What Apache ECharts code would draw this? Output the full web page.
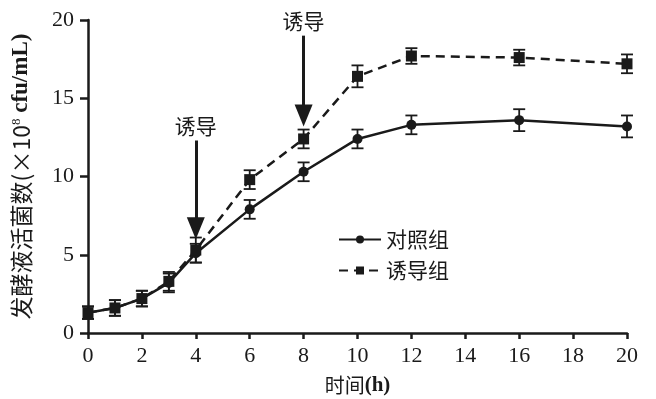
<!DOCTYPE html>
<html>
<head>
<meta charset="utf-8">
<script src="https://cdn.jsdelivr.net/npm/echarts@6/dist/echarts.min.js"></script>
<style>
  html, body { margin: 0; padding: 0; background: #fff; }
  #chart { width: 656px; height: 399px; }
</style>
</head>
<body>
<div id="chart"></div>
<script>
// sampling times (h)
var hours = [0, 1, 2, 3, 4, 6, 8, 10, 12, 16, 20];
var controlVals = [1.3, 1.6, 2.2, 3.2, 5.1, 7.9, 10.3, 12.4, 13.3, 13.6, 13.2];
var controlErr = [0.4, 0.5, 0.5, 0.6, 0.6, 0.6, 0.6, 0.6, 0.6, 0.7, 0.7];
var inducedVals = [1.3, 1.6, 2.2, 3.3, 5.3, 9.8, 12.4, 16.4, 17.7, 17.6, 17.2];
var inducedErr = [0.4, 0.5, 0.5, 0.6, 0.8, 0.6, 0.6, 0.7, 0.5, 0.5, 0.6];
// induction arrows: [time, top, tip]
var arrows = [[4, 12.3, 6.7], [8, 19.0, 13.9]];

var ink = "#1a1a1a";
var serif = "'Liberation Serif', 'Noto Sans CJK SC', serif";
var cjk = "'Noto Sans CJK SC', sans-serif";

function pairs(vals) {
  return hours.map(function (h, i) { return [h, vals[i]]; });
}
function bars(vals, errs) {
  return hours.map(function (h, i) { return [h, vals[i] - errs[i], vals[i] + errs[i]]; });
}

function renderErr(params, api) {
  var lo = api.coord([api.value(0), api.value(1)]);
  var hi = api.coord([api.value(0), api.value(2)]);
  var cap = 6;
  var style = { stroke: ink, lineWidth: 1.8 };
  return {
    type: "group",
    children: [
      { type: "line", shape: { x1: lo[0], y1: lo[1], x2: hi[0], y2: hi[1] }, style: style },
      { type: "line", shape: { x1: lo[0] - cap, y1: lo[1], x2: lo[0] + cap, y2: lo[1] }, style: style },
      { type: "line", shape: { x1: hi[0] - cap, y1: hi[1], x2: hi[0] + cap, y2: hi[1] }, style: style }
    ]
  };
}

var chart = echarts.init(document.getElementById("chart"));

chart.setOption({
  backgroundColor: "#fff",
  animation: false,
  grid: { left: 88, right: 29, top: 20, bottom: 66, containLabel: false, outerBoundsMode: "none" },
  legend: {
    orient: "vertical",
    left: 333,
    top: 224,
    itemWidth: 42,
    itemHeight: 10,
    itemGap: 10,
    data: ["对照组", "诱导组"],
    textStyle: { fontFamily: cjk, fontSize: 21, color: ink }
  },
  xAxis: {
    type: "value",
    min: 0,
    max: 20,
    interval: 2,
    name: "{c|时间}{l|(h)}",
    nameLocation: "middle",
    nameGap: 42,
    nameTextStyle: {
      rich: {
        c: { fontFamily: cjk, fontSize: 20, color: ink },
        l: { fontFamily: serif, fontSize: 21, fontWeight: "bold", color: ink }
      }
    },
    axisLine: { lineStyle: { color: ink, width: 2.5 } },
    axisTick: { lineStyle: { color: ink, width: 2.5 }, length: 6 },
    axisLabel: { fontFamily: serif, fontSize: 22, color: ink, margin: 12 },
    splitLine: { show: false }
  },
  yAxis: {
    type: "value",
    min: 0,
    max: 20,
    interval: 5,
    name: "{c|发酵液活菌数(×10}{s|8}{l| cfu/mL)}",
    nameLocation: "middle",
    nameGap: 55,
    nameTextStyle: {
      rich: {
        c: { fontFamily: cjk, fontSize: 23, color: ink },
        s: { fontFamily: serif, fontSize: 13, color: ink, verticalAlign: "top", padding: [0, 0, 10, 0] },
        l: { fontFamily: serif, fontSize: 23, fontWeight: "bold", color: ink }
      }
    },
    axisLine: { show: true, lineStyle: { color: ink, width: 2.5 } },
    axisTick: { show: true, lineStyle: { color: ink, width: 2.5 }, length: 8 },
    axisLabel: { fontFamily: serif, fontSize: 22, color: ink, margin: 14 },
    splitLine: { show: false }
  },
  series: [
    {
      name: "对照组",
      type: "line",
      data: pairs(controlVals),
      symbol: "circle",
      symbolSize: 10,
      itemStyle: { color: ink },
      lineStyle: { color: ink, width: 2.5 },
      z: 3,
      markLine: {
        silent: true,
        symbol: ["none", "triangle"],
        symbolSize: [18, 22],
        lineStyle: { color: ink, width: 3, type: "solid" },
        label: {
          show: true,
          position: "start",
          distance: 4,
          formatter: "诱导",
          fontFamily: cjk,
          fontSize: 21,
          color: ink
        },
        data: arrows.map(function (a) {
          return [{ coord: [a[0], a[1]] }, { coord: [a[0], a[2]] }];
        })
      }
    },
    {
      name: "诱导组",
      type: "line",
      data: pairs(inducedVals),
      symbol: "rect",
      symbolSize: 11,
      itemStyle: { color: ink },
      lineStyle: { color: ink, width: 2.5, type: [9, 6] },
      z: 3
    },
    {
      type: "custom",
      renderItem: renderErr,
      data: bars(controlVals, controlErr),
      encode: { x: 0, y: [1, 2] },
      z: 2
    },
    {
      type: "custom",
      renderItem: renderErr,
      data: bars(inducedVals, inducedErr),
      encode: { x: 0, y: [1, 2] },
      z: 2
    }
  ]
});
</script>
</body>
</html>
